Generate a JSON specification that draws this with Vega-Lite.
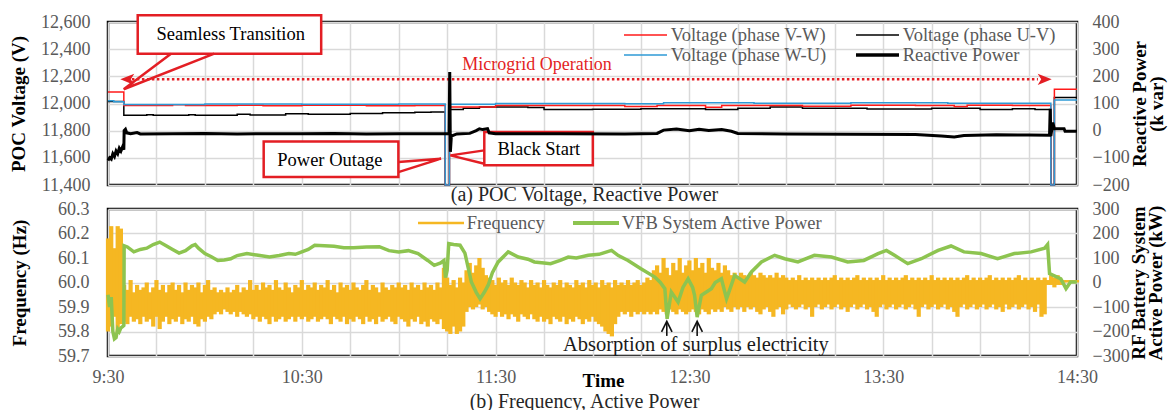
{
"$schema": "https://vega.github.io/schema/vega-lite/v6.json",
"padding": {"left": 8, "top": 11, "right": 5, "bottom": 5},
"bounds": "flush",
"spacing": 24,
"resolve": {"scale": {"color": "independent"}, "legend": {"color": "independent"}},
"config": {
 "font": "Liberation Serif",
 "view": {"stroke": "#000000", "strokeWidth": 2.5},
 "axis": {"labelFont": "Liberation Serif", "labelFontSize": 18, "labelColor": "#595959", "titleFont": "Liberation Serif", "titleFontSize": 19, "titleFontWeight": "bold", "titleColor": "#000000", "gridColor": "#d9d9d9", "gridWidth": 1.5, "domain": false, "ticks": false, "labelFlush": false, "labelOverlap": false},
 "legend": {"labelFont": "Liberation Serif", "labelFontSize": 18.5, "labelColor": "#595959"},
 "title": {"font": "Liberation Serif", "fontSize": 20, "fontWeight": "normal", "color": "#262626"}
},
"datasets": {
 "volt": [
  {"s":"Voltage (phase U-V)","t":0,"v":12015},{"s":"Voltage (phase U-V)","t":4.9,"v":11913},{"s":"Voltage (phase U-V)","t":12,"v":11918},{"s":"Voltage (phase U-V)","t":14,"v":11913},{"s":"Voltage (phase U-V)","t":25,"v":11917},{"s":"Voltage (phase U-V)","t":27,"v":11913},{"s":"Voltage (phase U-V)","t":40,"v":11920},{"s":"Voltage (phase U-V)","t":44,"v":11915},{"s":"Voltage (phase U-V)","t":55,"v":11925},{"s":"Voltage (phase U-V)","t":62,"v":11920},{"s":"Voltage (phase U-V)","t":75,"v":11927},{"s":"Voltage (phase U-V)","t":85,"v":11932},{"s":"Voltage (phase U-V)","t":95,"v":11935},{"s":"Voltage (phase U-V)","t":100,"v":11938},{"s":"Voltage (phase U-V)","t":104.4,"v":11400},{"s":"Voltage (phase U-V)","t":105.7,"v":11955},{"s":"Voltage (phase U-V)","t":110,"v":11965},{"s":"Voltage (phase U-V)","t":115,"v":11975},{"s":"Voltage (phase U-V)","t":130,"v":11970},{"s":"Voltage (phase U-V)","t":135,"v":11955},{"s":"Voltage (phase U-V)","t":150,"v":11958},{"s":"Voltage (phase U-V)","t":165,"v":11962},{"s":"Voltage (phase U-V)","t":185,"v":11955},{"s":"Voltage (phase U-V)","t":195,"v":11965},{"s":"Voltage (phase U-V)","t":205,"v":11975},{"s":"Voltage (phase U-V)","t":215,"v":11965},{"s":"Voltage (phase U-V)","t":235,"v":11960},{"s":"Voltage (phase U-V)","t":255,"v":11965},{"s":"Voltage (phase U-V)","t":270,"v":11955},{"s":"Voltage (phase U-V)","t":280,"v":11962},{"s":"Voltage (phase U-V)","t":287,"v":11955},{"s":"Voltage (phase U-V)","t":291.9,"v":11400},{"s":"Voltage (phase U-V)","t":293,"v":12045},{"s":"Voltage (phase U-V)","t":300,"v":12045},
  {"s":"Voltage (phase V-W)","t":0,"v":12085},{"s":"Voltage (phase V-W)","t":4.9,"v":11985},{"s":"Voltage (phase V-W)","t":20,"v":11990},{"s":"Voltage (phase V-W)","t":24,"v":11985},{"s":"Voltage (phase V-W)","t":40,"v":11988},{"s":"Voltage (phase V-W)","t":48,"v":11983},{"s":"Voltage (phase V-W)","t":60,"v":11987},{"s":"Voltage (phase V-W)","t":80,"v":11983},{"s":"Voltage (phase V-W)","t":95,"v":11985},{"s":"Voltage (phase V-W)","t":104.4,"v":11400},{"s":"Voltage (phase V-W)","t":105.7,"v":11975},{"s":"Voltage (phase V-W)","t":120,"v":11985},{"s":"Voltage (phase V-W)","t":150,"v":11985},{"s":"Voltage (phase V-W)","t":160,"v":11978},{"s":"Voltage (phase V-W)","t":170,"v":11985},{"s":"Voltage (phase V-W)","t":185,"v":11972},{"s":"Voltage (phase V-W)","t":190,"v":11985},{"s":"Voltage (phase V-W)","t":215,"v":11980},{"s":"Voltage (phase V-W)","t":230,"v":11987},{"s":"Voltage (phase V-W)","t":250,"v":11985},{"s":"Voltage (phase V-W)","t":262,"v":11978},{"s":"Voltage (phase V-W)","t":266,"v":11987},{"s":"Voltage (phase V-W)","t":280,"v":11985},{"s":"Voltage (phase V-W)","t":291.9,"v":11400},{"s":"Voltage (phase V-W)","t":293,"v":12104},{"s":"Voltage (phase V-W)","t":300,"v":12104},
  {"s":"Voltage (phase W-U)","t":0,"v":12020},{"s":"Voltage (phase W-U)","t":1.8,"v":12012},{"s":"Voltage (phase W-U)","t":4.9,"v":11993},{"s":"Voltage (phase W-U)","t":30,"v":11996},{"s":"Voltage (phase W-U)","t":60,"v":11995},{"s":"Voltage (phase W-U)","t":90,"v":11997},{"s":"Voltage (phase W-U)","t":104.4,"v":11400},{"s":"Voltage (phase W-U)","t":105.7,"v":11995},{"s":"Voltage (phase W-U)","t":120,"v":12000},{"s":"Voltage (phase W-U)","t":160,"v":11998},{"s":"Voltage (phase W-U)","t":172,"v":12005},{"s":"Voltage (phase W-U)","t":200,"v":12002},{"s":"Voltage (phase W-U)","t":230,"v":12006},{"s":"Voltage (phase W-U)","t":260,"v":12001},{"s":"Voltage (phase W-U)","t":291.9,"v":11400},{"s":"Voltage (phase W-U)","t":293,"v":12025},{"s":"Voltage (phase W-U)","t":300,"v":12025}
 ],
 "react": [
  {"t":0,"q":-110},{"t":0.5,"q":-100},{"t":1,"q":-105},{"t":1.5,"q":-85},{"t":2,"q":-95},{"t":2.5,"q":-75},{"t":3,"q":-85},{"t":3.5,"q":-65},{"t":4,"q":-75},{"t":4.5,"q":-60},{"t":4.9,"q":-70},{"t":5.0,"q":0},{"t":5.4,"q":5},{"t":5.8,"q":-8},{"t":7,"q":-11},{"t":9,"q":-7},{"t":10,"q":-12},{"t":20,"q":-11},{"t":30,"q":-10},{"t":40,"q":-12},{"t":50,"q":-11},{"t":60,"q":-11},{"t":70,"q":-10},{"t":80,"q":-12},{"t":90,"q":-11},{"t":104.4,"q":-11},{"t":105.6,"q":-11},{"t":105.8,"q":216},{"t":106,"q":-78},{"t":106.3,"q":-20},{"t":108,"q":-12},{"t":112,"q":-10},{"t":114,"q":0},{"t":115,"q":7},{"t":116,"q":4},{"t":117.5,"q":7},{"t":118,"q":-8},{"t":120,"q":-11},{"t":140,"q":-11},{"t":160,"q":-12},{"t":170,"q":-10},{"t":172,"q":2},{"t":176,"q":6},{"t":180,"q":0},{"t":183,"q":5},{"t":186,"q":1},{"t":190,"q":4},{"t":193,"q":-2},{"t":195,"q":-10},{"t":210,"q":-12},{"t":230,"q":-13},{"t":250,"q":-14},{"t":258,"q":-20},{"t":262,"q":-23},{"t":265,"q":-18},{"t":275,"q":-15},{"t":285,"q":-16},{"t":291.5,"q":-17},{"t":291.7,"q":81},{"t":291.9,"q":-20},{"t":292.5,"q":30},{"t":293,"q":7},{"t":296,"q":7},{"t":296.3,"q":-2},{"t":300,"q":-2}
 ],
 "power": [
  {"t":0,"p":-50},{"t":0.5,"p":-100},{"t":1,"p":-60},{"t":1.5,"p":-200},{"t":2,"p":-230},{"t":2.5,"p":-225},{"t":3,"p":-190},{"t":3.5,"p":-200},{"t":4,"p":-185},{"t":4.5,"p":-180},{"t":4.9,"p":-175},{"t":5.0,"p":150},{"t":6,"p":145},{"t":8,"p":125},{"t":10,"p":135},{"t":12,"p":140},{"t":14,"p":155},{"t":16,"p":165},{"t":18,"p":150},{"t":20,"p":135},{"t":22,"p":120},{"t":24,"p":130},{"t":26,"p":150},{"t":27,"p":155},{"t":28,"p":140},{"t":30,"p":118},{"t":32,"p":105},{"t":34,"p":90},{"t":36,"p":92},{"t":38,"p":97},{"t":40,"p":110},{"t":43,"p":118},{"t":46,"p":112},{"t":50,"p":104},{"t":53,"p":110},{"t":56,"p":118},{"t":58,"p":115},{"t":60,"p":125},{"t":62,"p":135},{"t":64,"p":152},{"t":67,"p":150},{"t":70,"p":148},{"t":73,"p":142},{"t":76,"p":142},{"t":80,"p":145},{"t":84,"p":146},{"t":87,"p":130},{"t":90,"p":125},{"t":93,"p":130},{"t":96,"p":118},{"t":99,"p":90},{"t":101,"p":70},{"t":103,"p":80},{"t":104,"p":90},{"t":104.5,"p":20},{"t":105,"p":50},{"t":105.5,"p":159},{"t":107,"p":155},{"t":109,"p":152},{"t":110.5,"p":120},{"t":112.5,"p":2},{"t":114,"p":-40},{"t":115.2,"p":-66},{"t":116.5,"p":-40},{"t":117.7,"p":-11},{"t":119,"p":40},{"t":120.8,"p":84},{"t":123.9,"p":125},{"t":127,"p":104},{"t":130,"p":95},{"t":132,"p":84},{"t":135,"p":80},{"t":137,"p":77},{"t":140,"p":90},{"t":142.5,"p":104},{"t":145,"p":100},{"t":148.7,"p":111},{"t":152,"p":115},{"t":155.9,"p":131},{"t":158,"p":110},{"t":161,"p":90},{"t":165,"p":56},{"t":169.3,"p":22},{"t":171,"p":0},{"t":172.4,"p":-25},{"t":173.1,"p":-148},{"t":174.4,"p":-39},{"t":176.5,"p":-80},{"t":178,"p":-20},{"t":179.6,"p":15},{"t":181,"p":-20},{"t":181.6,"p":-52},{"t":182.4,"p":-141},{"t":183.7,"p":-52},{"t":186.8,"p":-25},{"t":188,"p":0},{"t":189.9,"p":15},{"t":191.5,"p":-66},{"t":193,"p":-10},{"t":194,"p":29},{"t":197.1,"p":2},{"t":199.2,"p":43},{"t":202.3,"p":84},{"t":206.4,"p":111},{"t":209.5,"p":97},{"t":213.6,"p":84},{"t":218.7,"p":111},{"t":224,"p":104},{"t":229,"p":84},{"t":234,"p":90},{"t":238.4,"p":118},{"t":241,"p":131},{"t":243.5,"p":111},{"t":247.6,"p":77},{"t":251.8,"p":97},{"t":257,"p":131},{"t":261,"p":149},{"t":265,"p":125},{"t":270.3,"p":118},{"t":275.4,"p":97},{"t":280.6,"p":118},{"t":285.8,"p":125},{"t":290,"p":140},{"t":290.9,"p":155},{"t":291.5,"p":36},{"t":295,"p":15},{"t":296.6,"p":-25},{"t":298,"p":2},{"t":300,"p":2}
 ],
 "freq": [
  {"t":0,"a":59.80,"b":60.18},{"t":1,"a":59.82,"b":60.23},{"t":2,"a":59.86,"b":60.14},{"t":3,"a":59.79,"b":60.23},{"t":4,"a":59.83,"b":60.22},{"t":5,"a":59.84,"b":59.99},{"t":6,"a":59.83,"b":59.97},{"t":7,"a":59.86,"b":60.01},{"t":8,"a":59.84,"b":59.96},{"t":9,"a":59.85,"b":59.99},
  {"t":10,"a":59.83,"b":59.97},{"t":11,"a":59.86,"b":59.98},{"t":12,"a":59.84,"b":60.00},{"t":13,"a":59.85,"b":59.96},{"t":14,"a":59.82,"b":59.98},{"t":15,"a":59.86,"b":60.01},{"t":16,"a":59.81,"b":59.97},{"t":17,"a":59.84,"b":59.99},{"t":18,"a":59.86,"b":59.96},{"t":19,"a":59.83,"b":59.99},
  {"t":20,"a":59.85,"b":60.00},{"t":21,"a":59.84,"b":59.97},{"t":22,"a":59.86,"b":59.99},{"t":23,"a":59.83,"b":59.96},{"t":24,"a":59.85,"b":60.00},{"t":25,"a":59.84,"b":59.97},{"t":26,"a":59.86,"b":59.99},{"t":27,"a":59.83,"b":59.98},{"t":28,"a":59.82,"b":60.00},{"t":29,"a":59.85,"b":59.96},
  {"t":30,"a":59.84,"b":59.99},{"t":31,"a":59.86,"b":60.01},{"t":32,"a":59.85,"b":59.97},{"t":33,"a":59.87,"b":59.98},{"t":34,"a":59.88,"b":59.96},{"t":35,"a":59.87,"b":59.97},{"t":36,"a":59.89,"b":59.96},{"t":37,"a":59.88,"b":59.98},{"t":38,"a":59.87,"b":59.96},{"t":39,"a":59.88,"b":59.97},
  {"t":40,"a":59.86,"b":59.99},{"t":41,"a":59.88,"b":59.96},{"t":42,"a":59.87,"b":59.98},{"t":43,"a":59.86,"b":59.97},{"t":44,"a":59.87,"b":60.01},{"t":45,"a":59.85,"b":59.97},{"t":46,"a":59.86,"b":59.99},{"t":47,"a":59.84,"b":59.97},{"t":48,"a":59.86,"b":60.00},{"t":49,"a":59.85,"b":59.98},
  {"t":50,"a":59.83,"b":59.99},{"t":51,"a":59.86,"b":59.97},{"t":52,"a":59.84,"b":60.01},{"t":53,"a":59.85,"b":59.98},{"t":54,"a":59.86,"b":59.97},{"t":55,"a":59.84,"b":60.00},{"t":56,"a":59.85,"b":59.98},{"t":57,"a":59.86,"b":59.96},{"t":58,"a":59.84,"b":59.99},{"t":59,"a":59.86,"b":59.98},
  {"t":60,"a":59.85,"b":60.01},{"t":61,"a":59.86,"b":59.97},{"t":62,"a":59.84,"b":59.99},{"t":63,"a":59.85,"b":59.98},{"t":64,"a":59.86,"b":60.00},{"t":65,"a":59.84,"b":59.97},{"t":66,"a":59.85,"b":59.99},{"t":67,"a":59.86,"b":59.98},{"t":68,"a":59.85,"b":60.01},{"t":69,"a":59.83,"b":59.97},
  {"t":70,"a":59.86,"b":59.99},{"t":71,"a":59.85,"b":59.96},{"t":72,"a":59.84,"b":60.00},{"t":73,"a":59.86,"b":59.98},{"t":74,"a":59.83,"b":59.99},{"t":75,"a":59.85,"b":59.97},{"t":76,"a":59.84,"b":60.00},{"t":77,"a":59.86,"b":59.98},{"t":78,"a":59.85,"b":59.97},{"t":79,"a":59.83,"b":59.99},
  {"t":80,"a":59.86,"b":60.01},{"t":81,"a":59.84,"b":59.97},{"t":82,"a":59.85,"b":59.99},{"t":83,"a":59.83,"b":59.98},{"t":84,"a":59.86,"b":59.96},{"t":85,"a":59.84,"b":60.00},{"t":86,"a":59.85,"b":59.98},{"t":87,"a":59.86,"b":59.97},{"t":88,"a":59.84,"b":59.99},{"t":89,"a":59.83,"b":59.98},
  {"t":90,"a":59.86,"b":60.00},{"t":91,"a":59.85,"b":59.98},{"t":92,"a":59.84,"b":59.99},{"t":93,"a":59.82,"b":59.97},{"t":94,"a":59.85,"b":60.00},{"t":95,"a":59.84,"b":59.98},{"t":96,"a":59.86,"b":59.99},{"t":97,"a":59.83,"b":59.97},{"t":98,"a":59.84,"b":60.00},{"t":99,"a":59.82,"b":59.98},
  {"t":100,"a":59.85,"b":59.99},{"t":101,"a":59.84,"b":59.97},{"t":102,"a":59.83,"b":60.00},{"t":103,"a":59.85,"b":59.98},{"t":104,"a":59.81,"b":60.06},{"t":105,"a":59.80,"b":60.02},{"t":106,"a":59.79,"b":59.99},{"t":107,"a":59.82,"b":60.01},{"t":108,"a":59.79,"b":59.98},{"t":109,"a":59.80,"b":60.02},
  {"t":110,"a":59.82,"b":60.00},{"t":111,"a":59.88,"b":60.05},{"t":112,"a":59.90,"b":60.08},{"t":113,"a":59.89,"b":60.04},{"t":114,"a":59.90,"b":60.07},{"t":115,"a":59.91,"b":60.10},{"t":116,"a":59.89,"b":60.06},{"t":117,"a":59.90,"b":60.03},{"t":118,"a":59.88,"b":60.02},{"t":119,"a":59.87,"b":60.01},
  {"t":120,"a":59.86,"b":59.99},{"t":121,"a":59.88,"b":60.02},{"t":122,"a":59.86,"b":60.00},{"t":123,"a":59.87,"b":60.01},{"t":124,"a":59.85,"b":59.99},{"t":125,"a":59.87,"b":60.02},{"t":126,"a":59.86,"b":60.00},{"t":127,"a":59.84,"b":59.99},{"t":128,"a":59.87,"b":60.01},{"t":129,"a":59.86,"b":60.00},
  {"t":130,"a":59.85,"b":59.98},{"t":131,"a":59.87,"b":60.01},{"t":132,"a":59.85,"b":59.99},{"t":133,"a":59.84,"b":60.00},{"t":134,"a":59.86,"b":59.98},{"t":135,"a":59.84,"b":60.01},{"t":136,"a":59.85,"b":59.99},{"t":137,"a":59.83,"b":59.98},{"t":138,"a":59.86,"b":60.00},{"t":139,"a":59.85,"b":59.99},
  {"t":140,"a":59.84,"b":60.01},{"t":141,"a":59.86,"b":59.98},{"t":142,"a":59.83,"b":60.00},{"t":143,"a":59.85,"b":59.99},{"t":144,"a":59.84,"b":59.98},{"t":145,"a":59.86,"b":60.01},{"t":146,"a":59.85,"b":59.99},{"t":147,"a":59.83,"b":60.00},{"t":148,"a":59.85,"b":59.98},{"t":149,"a":59.84,"b":60.01},
  {"t":150,"a":59.86,"b":59.99},{"t":151,"a":59.84,"b":60.00},{"t":152,"a":59.83,"b":59.98},{"t":153,"a":59.82,"b":60.01},{"t":154,"a":59.80,"b":59.99},{"t":155,"a":59.79,"b":60.00},{"t":156,"a":59.78,"b":59.98},{"t":157,"a":59.83,"b":60.01},{"t":158,"a":59.86,"b":59.99},{"t":159,"a":59.88,"b":60.00},
  {"t":160,"a":59.87,"b":59.99},{"t":161,"a":59.88,"b":60.01},{"t":162,"a":59.86,"b":59.99},{"t":163,"a":59.88,"b":60.00},{"t":164,"a":59.87,"b":60.01},{"t":165,"a":59.88,"b":59.99},{"t":166,"a":59.87,"b":60.00},{"t":167,"a":59.88,"b":60.02},{"t":168,"a":59.87,"b":60.01},{"t":169,"a":59.88,"b":60.05},
  {"t":170,"a":59.87,"b":60.07},{"t":171,"a":59.89,"b":60.04},{"t":172,"a":59.88,"b":60.10},{"t":173,"a":59.87,"b":60.06},{"t":174,"a":59.89,"b":60.03},{"t":175,"a":59.88,"b":60.08},{"t":176,"a":59.87,"b":60.05},{"t":177,"a":59.89,"b":60.10},{"t":178,"a":59.88,"b":60.04},{"t":179,"a":59.87,"b":60.07},
  {"t":180,"a":59.88,"b":60.09},{"t":181,"a":59.89,"b":60.05},{"t":182,"a":59.88,"b":60.10},{"t":183,"a":59.87,"b":60.06},{"t":184,"a":59.89,"b":60.08},{"t":185,"a":59.88,"b":60.04},{"t":186,"a":59.87,"b":60.10},{"t":187,"a":59.89,"b":60.06},{"t":188,"a":59.88,"b":60.05},{"t":189,"a":59.89,"b":60.08},
  {"t":190,"a":59.88,"b":60.04},{"t":191,"a":59.90,"b":60.07},{"t":192,"a":59.89,"b":60.05},{"t":193,"a":59.88,"b":60.03},{"t":194,"a":59.90,"b":60.04},{"t":195,"a":59.89,"b":60.02},{"t":196,"a":59.90,"b":60.04},{"t":197,"a":59.88,"b":60.03},{"t":198,"a":59.90,"b":60.02},{"t":199,"a":59.89,"b":60.04},
  {"t":200,"a":59.90,"b":60.03},{"t":201,"a":59.88,"b":60.02},{"t":202,"a":59.87,"b":60.04},{"t":203,"a":59.89,"b":60.03},{"t":204,"a":59.90,"b":60.02},{"t":205,"a":59.88,"b":60.03},{"t":206,"a":59.86,"b":60.02},{"t":207,"a":59.89,"b":60.04},{"t":208,"a":59.90,"b":60.02},{"t":209,"a":59.87,"b":60.03},
  {"t":210,"a":59.89,"b":60.02},{"t":211,"a":59.91,"b":60.01},{"t":212,"a":59.90,"b":60.02},{"t":213,"a":59.89,"b":60.01},{"t":214,"a":59.90,"b":60.03},{"t":215,"a":59.91,"b":60.01},{"t":216,"a":59.89,"b":60.02},{"t":217,"a":59.90,"b":60.01},{"t":218,"a":59.86,"b":60.02},{"t":219,"a":59.90,"b":60.01},
  {"t":220,"a":59.91,"b":60.02},{"t":221,"a":59.89,"b":60.01},{"t":222,"a":59.90,"b":60.02},{"t":223,"a":59.91,"b":60.01},{"t":224,"a":59.89,"b":60.02},{"t":225,"a":59.90,"b":60.03},{"t":226,"a":59.91,"b":60.01},{"t":227,"a":59.89,"b":60.02},{"t":228,"a":59.90,"b":60.01},{"t":229,"a":59.88,"b":60.02},
  {"t":230,"a":59.90,"b":60.01},{"t":231,"a":59.91,"b":60.02},{"t":232,"a":59.89,"b":60.03},{"t":233,"a":59.90,"b":60.01},{"t":234,"a":59.91,"b":60.02},{"t":235,"a":59.89,"b":60.01},{"t":236,"a":59.90,"b":60.02},{"t":237,"a":59.88,"b":60.01},{"t":238,"a":59.86,"b":60.02},{"t":239,"a":59.90,"b":60.01},
  {"t":240,"a":59.91,"b":60.03},{"t":241,"a":59.89,"b":60.01},{"t":242,"a":59.90,"b":60.02},{"t":243,"a":59.91,"b":60.01},{"t":244,"a":59.89,"b":60.02},{"t":245,"a":59.90,"b":60.01},{"t":246,"a":59.91,"b":60.02},{"t":247,"a":59.89,"b":60.03},{"t":248,"a":59.90,"b":60.01},{"t":249,"a":59.91,"b":60.02},
  {"t":250,"a":59.89,"b":60.01},{"t":251,"a":59.86,"b":60.02},{"t":252,"a":59.90,"b":60.01},{"t":253,"a":59.91,"b":60.02},{"t":254,"a":59.89,"b":60.01},{"t":255,"a":59.90,"b":60.03},{"t":256,"a":59.91,"b":60.01},{"t":257,"a":59.89,"b":60.02},{"t":258,"a":59.90,"b":60.01},{"t":259,"a":59.91,"b":60.02},
  {"t":260,"a":59.89,"b":60.01},{"t":261,"a":59.90,"b":60.02},{"t":262,"a":59.88,"b":60.01},{"t":263,"a":59.86,"b":60.02},{"t":264,"a":59.90,"b":60.01},{"t":265,"a":59.91,"b":60.02},{"t":266,"a":59.89,"b":60.03},{"t":267,"a":59.90,"b":60.01},{"t":268,"a":59.91,"b":60.02},{"t":269,"a":59.89,"b":60.01},
  {"t":270,"a":59.90,"b":60.02},{"t":271,"a":59.91,"b":60.01},{"t":272,"a":59.89,"b":60.02},{"t":273,"a":59.90,"b":60.03},{"t":274,"a":59.91,"b":60.01},{"t":275,"a":59.89,"b":60.02},{"t":276,"a":59.90,"b":60.01},{"t":277,"a":59.88,"b":60.02},{"t":278,"a":59.91,"b":60.01},{"t":279,"a":59.89,"b":60.02},
  {"t":280,"a":59.90,"b":60.01},{"t":281,"a":59.91,"b":60.02},{"t":282,"a":59.89,"b":60.03},{"t":283,"a":59.90,"b":60.01},{"t":284,"a":59.91,"b":60.02},{"t":285,"a":59.89,"b":60.01},{"t":286,"a":59.90,"b":60.02},{"t":287,"a":59.88,"b":60.01},{"t":288,"a":59.91,"b":60.02},{"t":289,"a":59.86,"b":60.01},
  {"t":290,"a":59.87,"b":60.02},{"t":291,"a":59.99,"b":60.01},{"t":292,"a":59.99,"b":60.03},{"t":293,"a":59.98,"b":60.02},{"t":294,"a":59.99,"b":60.03},{"t":295,"a":59.99,"b":60.01},{"t":296,"a":60.00,"b":60.01},{"t":297,"a":60.00,"b":60.01},{"t":298,"a":60.00,"b":60.01},{"t":299,"a":60.00,"b":60.01},{"t":300,"a":60.00,"b":60.01}
 ]
},
"vconcat": [
 {
  "width": 969, "height": 163,
  "title": {"text": "(a) POC Voltage, Reactive Power", "orient": "bottom", "offset": -9, "dx": -8, "baseline": "top"},
  "resolve": {"scale": {"y": "independent"}},
  "layer": [
   {"data": {"name": "volt"},
    "mark": {"type": "line", "interpolate": "step-after", "strokeWidth": 1.5},
    "encoding": {
     "x": {"field": "t", "type": "quantitative", "scale": {"domain": [0, 300], "nice": false, "zero": false}, "axis": {"values": [0,15,30,45,60,75,90,105,120,135,150,165,180,195,210,225,240,255,270,285,300], "labels": false, "title": null, "grid": true}},
     "y": {"field": "v", "type": "quantitative", "scale": {"domain": [11400, 12600], "nice": false, "zero": false}, "axis": {"values": [11400,11600,11800,12000,12200,12400,12600], "labelExpr": "format(datum.value, ',')", "labelOverlap": false, "title": "POC Voltage (V)", "labelPadding": 18, "titlePadding": 12, "grid": true}},
     "color": {"field": "s", "type": "nominal",
      "scale": {"domain": ["Voltage (phase V-W)", "Voltage (phase W-U)", "Voltage (phase U-V)", "Reactive Power"], "range": ["#ff1a1a", "#2e9ad6", "#000000", "#000000"]},
      "legend": {"title": null, "orient": "none", "legendX": 516, "legendY": 3, "columns": 2, "columnPadding": 29, "rowPadding": 0, "padding": 0, "symbolType": "stroke", "symbolSize": 1849, "clipHeight": 20, "symbolOffset": 12.25, "labelOffset": 16, "labelFontSize": 18.5, "labelFont": "Liberation Serif", "labelColor": "#595959", "labelLimit": 500,
       "encode": {"symbols": {"update": {"strokeWidth": {"signal": "datum.value === 'Reactive Power' ? 3.5 : 1.5"}}}}}}
    }},
   {"layer": [
    {"data": {"values": [{"t": 9.2, "t2": 66.0, "v": 12367, "v2": 12649}, {"t": 48.2, "t2": 89.9, "v": 11458, "v2": 11721}, {"t": 116.5, "t2": 150.1, "v": 11545, "v2": 11790}]},
     "mark": {"type": "rect", "fill": "#ffffff", "stroke": "#e31e24", "strokeWidth": 2.5},
     "encoding": {
      "x": {"field": "t", "type": "quantitative", "scale": {"domain": [0, 300], "nice": false, "zero": false}},
      "x2": {"field": "t2"},
      "y": {"field": "v", "type": "quantitative", "scale": {"domain": [11400, 12600], "nice": false, "zero": false}, "axis": null},
      "y2": {"field": "v2"}
     }},
    {"data": {"values": [
      {"g": 1, "o": 0, "t": 19.5, "v": 12367}, {"g": 1, "o": 1, "t": 4.86, "v": 12105}, {"g": 1, "o": 2, "t": 32.9, "v": 12367},
      {"g": 2, "o": 0, "t": 89.9, "v": 11569}, {"g": 2, "o": 1, "t": 103.1, "v": 11594}, {"g": 2, "o": 2, "t": 89.9, "v": 11495},
      {"g": 3, "o": 0, "t": 116.5, "v": 11655}, {"g": 3, "o": 1, "t": 106.0, "v": 11618}, {"g": 3, "o": 2, "t": 116.5, "v": 11557}]},
     "mark": {"type": "line", "color": "#e31e24", "strokeWidth": 2.5},
     "encoding": {
      "x": {"field": "t", "type": "quantitative", "scale": {"domain": [0, 300], "nice": false, "zero": false}},
      "y": {"field": "v", "type": "quantitative", "scale": {"domain": [11400, 12600], "nice": false, "zero": false}, "axis": null},
      "detail": {"field": "g", "type": "nominal"},
      "order": {"field": "o", "type": "quantitative"}
     }},
    {"data": {"values": [{"t": 38.0, "v": 12465, "s": "Seamless Transition"}, {"t": 68.7, "v": 11540, "s": "Power Outage"}, {"t": 133.4, "v": 11623, "s": "Black Start"}]},
     "mark": {"type": "text", "fontSize": 18.5, "font": "Liberation Serif", "color": "#000000", "baseline": "alphabetic", "align": "center"},
     "encoding": {
      "x": {"field": "t", "type": "quantitative", "scale": {"domain": [0, 300], "nice": false, "zero": false}},
      "y": {"field": "v", "type": "quantitative", "scale": {"domain": [11400, 12600], "nice": false, "zero": false}, "axis": null},
      "text": {"field": "s"}
     }},
    {"data": {"values": [{"t": 132.8, "v": 12247, "s": "Microgrid Operation"}]},
     "mark": {"type": "text", "fontSize": 18, "font": "Liberation Serif", "color": "#e31e24", "baseline": "alphabetic", "align": "center"},
     "encoding": {
      "x": {"field": "t", "type": "quantitative", "scale": {"domain": [0, 300], "nice": false, "zero": false}},
      "y": {"field": "v", "type": "quantitative", "scale": {"domain": [11400, 12600], "nice": false, "zero": false}, "axis": null},
      "text": {"field": "s"}
     }},
    {"data": {"values": [{"t": 7.4, "t2": 287.9, "v": 12178}]},
     "mark": {"type": "rule", "color": "#e31e24", "strokeWidth": 2.5, "strokeDash": [2.5, 2.5]},
     "encoding": {
      "x": {"field": "t", "type": "quantitative", "scale": {"domain": [0, 300], "nice": false, "zero": false}},
      "x2": {"field": "t2"},
      "y": {"field": "v", "type": "quantitative", "scale": {"domain": [11400, 12600], "nice": false, "zero": false}, "axis": null}
     }},
    {"data": {"values": [{"t": 5.97, "v": 12178}]},
     "mark": {"type": "point", "shape": "M-1,0L1,-0.8L0.5,0L1,0.8Z", "filled": true, "color": "#e31e24", "size": 196, "opacity": 1, "strokeWidth": 0},
     "encoding": {
      "x": {"field": "t", "type": "quantitative", "scale": {"domain": [0, 300], "nice": false, "zero": false}},
      "y": {"field": "v", "type": "quantitative", "scale": {"domain": [11400, 12600], "nice": false, "zero": false}, "axis": null}
     }},
    {"data": {"values": [{"t": 290.0, "v": 12178}]},
     "mark": {"type": "point", "shape": "M1,0L-1,-0.8L-0.5,0L-1,0.8Z", "filled": true, "color": "#e31e24", "size": 196, "opacity": 1, "strokeWidth": 0},
     "encoding": {
      "x": {"field": "t", "type": "quantitative", "scale": {"domain": [0, 300], "nice": false, "zero": false}},
      "y": {"field": "v", "type": "quantitative", "scale": {"domain": [11400, 12600], "nice": false, "zero": false}, "axis": null}
     }}
   ]},
   {"data": {"name": "react"},
    "mark": {"type": "line", "strokeWidth": 3},
    "encoding": {
     "x": {"field": "t", "type": "quantitative", "scale": {"domain": [0, 300], "nice": false, "zero": false}},
     "y": {"field": "q", "type": "quantitative", "scale": {"domain": [-200, 400], "nice": false, "zero": false}, "axis": {"orient": "right", "values": [-200,-100,0,100,200,300,400], "labelExpr": "format(datum.value, 'd')", "labelOverlap": false, "title": ["Reactive Power", "(k var)"], "titleAngle": 270, "titleLineHeight": 17, "labelPadding": 15, "titlePadding": 3, "grid": false}},
     "color": {"datum": "Reactive Power", "type": "nominal",
      "scale": {"domain": ["Voltage (phase V-W)", "Voltage (phase W-U)", "Voltage (phase U-V)", "Reactive Power"], "range": ["#ff1a1a", "#2e9ad6", "#000000", "#000000"]}}
    }}
  ]
 },
 {
  "width": 969, "height": 147,
  "title": {"text": "(b)  Frequency, Active Power", "orient": "bottom", "offset": 2, "dx": -8, "baseline": "top"},
  "resolve": {"scale": {"y": "independent"}},
  "layer": [
   {"data": {"name": "freq"},
    "mark": {"type": "rule", "strokeWidth": 4.2},
    "encoding": {
     "x": {"field": "t", "type": "quantitative", "scale": {"domain": [0, 300], "nice": false, "zero": false},
      "axis": {"values": [0,15,30,45,60,75,90,105,120,135,150,165,180,195,210,225,240,255,270,285,300], "labelExpr": "datum.value % 60 == 0 ? floor((570 + datum.value) / 60) + ':' + (((570 + datum.value) % 60) < 10 ? '0' : '') + ((570 + datum.value) % 60) : ''", "title": "Time", "titleX": 495, "titleY": 30, "titleBaseline": "alphabetic", "labelPadding": 12, "grid": true}},
     "y": {"field": "a", "type": "quantitative", "scale": {"domain": [59.7, 60.3], "nice": false, "zero": false}, "axis": {"values": [59.7,59.8,59.9,60.0,60.1,60.2,60.3], "labelExpr": "format(datum.value, '.1f')", "labelOverlap": false, "title": "Frequency (Hz)", "labelPadding": 19, "titlePadding": 28, "grid": true}},
     "y2": {"field": "b"},
     "color": {"datum": "Frequency", "type": "nominal",
      "scale": {"domain": ["Frequency", "VFB System Active Power"], "range": ["#f5b722", "#8dc450"]},
      "legend": {"title": null, "orient": "none", "legendX": 310, "legendY": 4, "columns": 2, "columnPadding": 28, "rowPadding": 0, "padding": 0, "symbolType": "stroke", "symbolSize": 2116, "clipHeight": 20, "symbolOffset": 13.75, "labelOffset": 16.5, "labelFontSize": 18.5, "labelFont": "Liberation Serif", "labelColor": "#595959", "labelLimit": 500,
       "encode": {"symbols": {"update": {"strokeWidth": {"signal": "datum.value === 'Frequency' ? 2.5 : 4"}}}}}}
    }},
   {"data": {"name": "power"},
    "mark": {"type": "line", "strokeWidth": 3.5},
    "encoding": {
     "x": {"field": "t", "type": "quantitative", "scale": {"domain": [0, 300], "nice": false, "zero": false}},
     "y": {"field": "p", "type": "quantitative", "scale": {"domain": [-300, 300], "nice": false, "zero": false}, "axis": {"orient": "right", "values": [-300,-200,-100,0,100,200,300], "labelExpr": "format(datum.value, 'd')", "labelOverlap": false, "title": ["RF Battery System", "Active Power (kW)"], "titleAngle": 270, "titleLineHeight": 17, "labelPadding": 15, "titlePadding": 2, "grid": false}},
     "color": {"datum": "VFB System Active Power", "type": "nominal",
      "scale": {"domain": ["Frequency", "VFB System Active Power"], "range": ["#f5b722", "#8dc450"]}}
    }},
   {"layer": [
    {"data": {"values": [{"t": 182.0, "v": 59.719, "s": "Absorption of surplus electricity"}]},
     "mark": {"type": "text", "fontSize": 20.5, "font": "Liberation Serif", "color": "#1a1a1a", "baseline": "alphabetic", "align": "center"},
     "encoding": {
      "x": {"field": "t", "type": "quantitative", "scale": {"domain": [0, 300], "nice": false, "zero": false}},
      "y": {"field": "v", "type": "quantitative", "scale": {"domain": [59.7, 60.3], "nice": false, "zero": false}, "axis": null},
      "text": {"field": "s"}
     }},
    {"data": {"values": [{"t": 173.0, "v": 59.782, "v2": 59.838}, {"t": 182.4, "v": 59.782, "v2": 59.838}]},
     "mark": {"type": "rule", "color": "#111111", "strokeWidth": 1.6},
     "encoding": {
      "x": {"field": "t", "type": "quantitative", "scale": {"domain": [0, 300], "nice": false, "zero": false}},
      "y": {"field": "v", "type": "quantitative", "scale": {"domain": [59.7, 60.3], "nice": false, "zero": false}, "axis": null},
      "y2": {"field": "v2"}
     }},
    {"data": {"values": [{"t": 173.0, "v": 59.82}, {"t": 182.4, "v": 59.82}]},
     "mark": {"type": "point", "shape": "M-1,1L0,-1L1,1", "filled": false, "color": "#111111", "strokeWidth": 1.6, "size": 110, "opacity": 1},
     "encoding": {
      "x": {"field": "t", "type": "quantitative", "scale": {"domain": [0, 300], "nice": false, "zero": false}},
      "y": {"field": "v", "type": "quantitative", "scale": {"domain": [59.7, 60.3], "nice": false, "zero": false}, "axis": null}
     }}
   ]}
  ]
 }
]
}
